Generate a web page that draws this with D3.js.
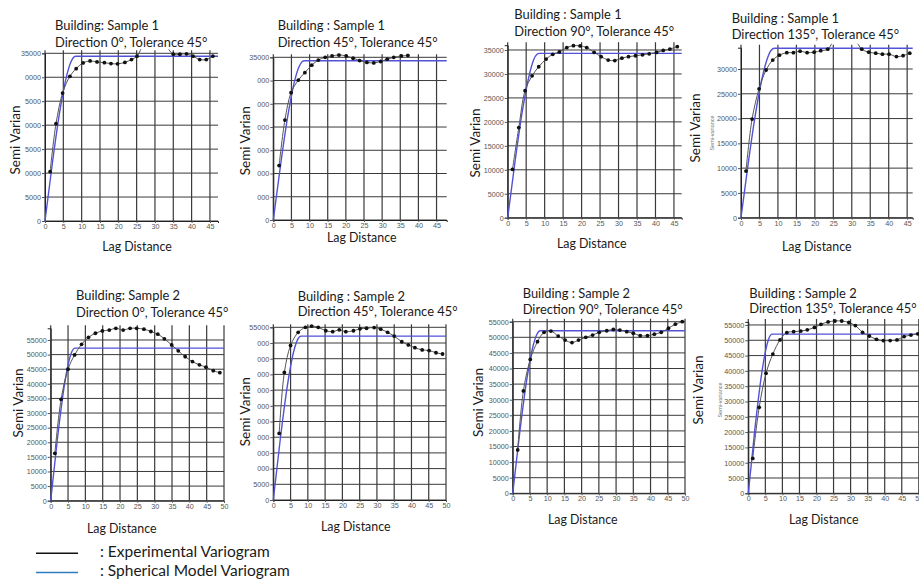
<!DOCTYPE html>
<html><head><meta charset="utf-8">
<script src="https://cdn.jsdelivr.net/npm/d3@7"></script>
<style>
html,body{margin:0;padding:0;background:#fff;}
svg{display:block;}
</style></head>
<body>
<script>
// ---------- DATA ----------
const sample1XTicks = [0,5,10,15,20,25,30,35,40,45];
const sample2XTicks = [0,5,10,15,20,25,30,35,40,45,50];
const sample1YTicks = [0,5000,10000,15000,20000,25000,30000,35000];
const p4YTicks = [0,5000,10000,15000,20000,25000,30000];
const sample2YTicks = [0,5000,10000,15000,20000,25000,30000,35000,40000,45000,50000,55000];

const p1YLabels = ["0","5000","0000","5000","0000","5000","0000","35000"];
const p2YLabels = ["0","000","000","000","000","000","000","35000"];
const p3YLabels = ["0","5000","10000","15000","20000","25000","30000","35000"];
const p4YLabels = ["0","5000","10000","15000","20000","25000","30000"];
const fullS2YLabels = ["0","5000","10000","15000","20000","25000","30000","35000","40000","45000","50000","55000"];
const p6YLabels = ["0","5000","000","000","000","000","000","000","000","000","000","55000"];

const titles1 = ["Building: Sample 1","Building : Sample 1","Building : Sample 1","Building : Sample 1",
                 "Building: Sample 2","Building : Sample 2","Building : Sample 2","Building : Sample 2"];
const titles2 = ["Direction 0°, Tolerance 45°","Direction 45°, Tolerance 45°","Direction 90°, Tolerance 45°","Direction 135°, Tolerance 45°",
                 "Direction 0°, Tolerance 45°","Direction 45°, Tolerance 45°","Direction 90°, Tolerance 45°","Direction 135°, Tolerance 45°"];

// Experimental variogram (lag, semivariance)
const lagP1 = [1.4,3.0,4.8,6.8,8.5,10.4,12.3,14.2,16.2,18.0,19.8,21.8,23.6,25.1,27.0,28.9,30.7,32.6,35.0,36.8,38.6,40.4,42.2,44.0,45.8];
const gamP1 = [10300,20300,26700,30200,31800,33000,33400,33200,33050,32850,32800,33100,33700,34400,36800,37200,37200,36800,34800,34800,34900,34400,33700,33700,34400];
const lagP2 = [1.6,3.2,4.9,6.9,8.7,10.6,12.4,14.3,16.2,18.1,20.1,22.0,23.8,25.8,27.7,29.6,31.4,33.2,35.3,37.1];
const gamP2 = [11700,21500,27400,30100,31700,33300,34400,35000,35300,35500,35300,34800,34300,33900,33800,34100,34600,35000,35300,35400];
const lagP3 = [1.3,3.0,4.7,6.6,8.4,10.4,12.2,14.0,16.0,17.8,19.6,21.4,23.4,25.3,27.2,29.0,30.9,32.7,34.6,36.5,38.3,40.3,42.1,43.9,45.9];
const gamP3 = [10100,18800,26500,29600,31500,33100,34100,34600,35500,35900,35850,35500,34500,33600,32900,32800,33300,33600,33800,34000,34200,34500,34900,35200,35700];
const lagP4 = [1.35,3.0,4.9,6.8,8.6,10.4,12.4,14.2,16.0,17.9,19.8,21.6,23.5,25.3,27.2,29.0,30.9,32.7,34.6,36.5,38.3,40.1,42.1,43.9,45.7];
const gamP4 = [9400,19900,26000,29800,31800,32800,33300,33300,33600,33300,33400,33700,34000,35800,36200,36200,35800,34000,33400,33200,33000,33000,32500,32700,33200];
const lagP5 = [1.2,3.0,5.0,6.9,8.9,10.9,12.9,14.9,16.9,18.8,20.9,22.9,24.8,26.9,28.9,30.9,32.8,34.9,36.8,38.8,40.9,42.9,44.8,46.9,48.8];
const gamP5 = [16200,34700,45000,49900,53500,55900,57300,58100,58400,59000,58400,59000,59000,58700,57900,57000,55400,53300,51300,49300,47600,46500,45700,44500,43800];
const lagP6 = [1.7,3.2,5.0,7.2,9.3,11.1,13.0,15.2,17.2,19.1,21.0,23.2,25.1,27.0,29.2,31.1,33.1,35.0,37.2,39.1,41.0,43.1,45.1,47.1,49.0];
const gamP6 = [21200,40600,49200,53400,55000,55400,55000,53900,53600,54200,53600,53900,54500,54700,54900,54400,53400,52200,50400,49400,48500,47800,47600,46900,46500];
const lagP7 = [1.45,3.1,5.1,7.2,9.1,11.1,13.2,15.2,17.2,19.1,21.2,23.2,25.1,27.3,29.2,31.1,33.1,35.0,37.0,39.1,41.1,43.1,45.2,47.2,49.2];
const gamP7 = [13900,32800,42900,48600,51600,52000,50400,49100,48300,49100,50000,50700,51600,52100,52500,52300,51800,51300,50500,50500,51000,51600,52900,54200,55000];
const lagP8 = [1.3,3.2,5.2,7.2,9.3,11.3,13.3,15.4,17.3,19.4,21.3,23.4,25.4,27.4,29.5,31.4,33.5,35.5,37.6,39.6,41.6,43.6,45.7,47.7,49.7];
const gamP8 = [11400,28100,39200,45500,50100,52500,52800,53000,53400,54200,55200,56000,56300,56300,55800,54800,52600,51400,50300,49900,49900,50100,51200,51700,52100];

// Spherical model variogram (read points)
const mLagP1 = [0,2,4,6,7,8,8.4,47.2];  const mGamP1 = [0,12000,22700,30600,33100,34300,34400,34400];
const mLagP2 = [0,2,4,6,7,8,8.5,47.8];  const mGamP2 = [0,11800,22400,30300,32800,34100,34250,34250];
const mLagP3 = [0,2,4,6,7,8,8.5,47.1];  const mGamP3 = [0,11800,22400,30300,32900,34150,34300,34300];
const mLagP4 = [0,2,4,6,7,8,9,46.5];    const mGamP4 = [0,11200,21300,29100,31800,33600,34200,34200];
const mLagP5 = [0,2,4,5,6,7,50];        const mGamP5 = [0,21800,39900,46400,50700,52200,52200];
const mLagP6 = [0,2,4,6,7,8,50];        const mGamP6 = [0,19200,35900,47700,51000,52200,52200];
const mLagP7 = [0,2,4,6,7,8,50];        const mGamP7 = [0,19100,35800,47600,50900,52100,52100];
const mLagP8 = [0,2,4,5,6,7,50];        const mGamP8 = [0,21700,39700,46200,50500,52000,52000];

const legendLabels = [": Experimental Variogram", ": Spherical Model Variogram"];

// ---------- LAYOUT ----------
const panels = [
 {lag:lagP1,gam:gamP1,mLag:mLagP1,mGam:mGamP1,xTicks:sample1XTicks,yTicks:sample1YTicks,yLabels:p1YLabels,xMax:47.2,yMax:35000,
  x0:45,x1:218,y0:221,yTop:53.3,tx:55,t1:25,t2:42.7,yl:[15,140],xl:[137,247]},
 {lag:lagP2,gam:gamP2,mLag:mLagP2,mGam:mGamP2,xTicks:sample1XTicks,yTicks:sample1YTicks,yLabels:p2YLabels,xMax:47.8,yMax:35000,
  x0:273.3,x1:446.7,y0:220,yTop:57.3,tx:277.7,t1:25,t2:42.7,yl:[245,140.7],xl:[361.7,237.5]},
 {lag:lagP3,gam:gamP3,mLag:mLagP3,mGam:mGamP3,xTicks:sample1XTicks,yTicks:sample1YTicks,yLabels:p3YLabels,xMax:47.1,yMax:36000,
  x0:507.7,x1:681.7,y0:217.7,yTop:45.2,tx:514.3,t1:14,t2:31.7,yl:[475,143],xl:[591.7,244]},
 {lag:lagP4,gam:gamP4,mLag:mLagP4,mGam:mGamP4,xTicks:sample1XTicks,yTicks:p4YTicks,yLabels:p4YLabels,xMax:46.5,yMax:34300,
  x0:741,x1:912.7,y0:217.7,yTop:47.7,tx:731.7,t1:18.3,t2:34.3,yl:[695.7,128],xl:[816.7,246.7],small:[711.7,133]},
 {lag:lagP5,gam:gamP5,mLag:mLagP5,mGam:mGamP5,xTicks:sample2XTicks,yTicks:sample2YTicks,yLabels:fullS2YLabels,xMax:50,yMax:59000,
  x0:50.7,x1:224,y0:500.7,yTop:328.3,tx:76,t1:295,t2:312.7,yl:[18.3,403],xl:[121.7,528.3]},
 {lag:lagP6,gam:gamP6,mLag:mLagP6,mGam:mGamP6,xTicks:sample2XTicks,yTicks:sample2YTicks,yLabels:p6YLabels,xMax:50,yMax:55000,
  x0:273.3,x1:446,y0:500,yTop:327.3,tx:297.7,t1:296,t2:311.7,yl:[245,411.7],xl:[355.7,526.7]},
 {lag:lagP7,gam:gamP7,mLag:mLagP7,mGam:mGamP7,xTicks:sample2XTicks,yTicks:sample2YTicks,yLabels:fullS2YLabels,xMax:50,yMax:55000,
  x0:512.7,x1:685,y0:493.3,yTop:321.7,tx:522.7,t1:293.3,t2:309.3,yl:[478.3,402.5],xl:[582.7,520]},
 {lag:lagP8,gam:gamP8,mLag:mLagP8,mGam:mGamP8,xTicks:sample2XTicks,yTicks:sample2YTicks,yLabels:fullS2YLabels,xMax:50,yMax:56000,
  x0:748.3,x1:918.8,y0:493.3,yTop:321.9,tx:749.3,t1:293,t2:308.5,yl:[698.3,390],xl:[823.7,519.3],small:[720,400]}
];

const FONT = "Lato, 'Open Sans', sans-serif";
const TICKFONT = "'Liberation Sans', Arial, sans-serif";
const BLUE = "#5252d6";
const GRID = "#3a3a3a";

const svg = d3.select("body").append("svg").attr("width",919).attr("height",579)
  .attr("viewBox","0 0 919 579");
svg.append("rect").attr("width",919).attr("height",579).attr("fill","#fff");
const defs = svg.append("defs");

panels.forEach((p,i)=>{
  const g = svg.append("g").attr("class","panel");
  const x = d3.scaleLinear().domain([0,p.xMax]).range([p.x0,p.x1]);
  const y = d3.scaleLinear().domain([0,p.yMax]).range([p.y0,p.yTop]);

  // titles
  g.append("text").attr("x",p.tx).attr("y",p.t1).attr("dy","0.35em")
    .attr("font-family",FONT).attr("font-size",12.9).attr("fill","#1a1a1a").text(titles1[i]);
  g.append("text").attr("x",p.tx).attr("y",p.t2).attr("dy","0.35em")
    .attr("font-family",FONT).attr("font-size",12.9).attr("fill","#1a1a1a").text(titles2[i]);

  // grid
  g.append("g").selectAll("line").data(p.yTicks).join("line")
    .attr("x1",x(0)).attr("x2",x(p.xMax)).attr("y1",d=>y(d)).attr("y2",d=>y(d))
    .attr("stroke",GRID).attr("stroke-width",1);
  g.append("g").selectAll("line").data(p.xTicks).join("line")
    .attr("x1",d=>x(d)).attr("x2",d=>x(d)).attr("y1",y(0)).attr("y2",y(p.yMax)-3)
    .attr("stroke",GRID).attr("stroke-width",1.2);

  // axes
  const ya = d3.axisLeft(y).tickValues(p.yTicks).tickFormat((d,k)=>p.yLabels[k]).tickSize(3).tickPadding(1);
  const yg = g.append("g").attr("transform",`translate(${x(0)},0)`).call(ya);
  const xa = d3.axisBottom(x).tickValues(p.xTicks).tickSize(2).tickPadding(1);
  const xg = g.append("g").attr("transform",`translate(0,${y(0)})`).call(xa);
  [yg,xg].forEach(a=>{
    a.select(".domain").attr("stroke","#222");
    a.selectAll(".tick line").attr("stroke","#555");
    a.selectAll("text").attr("font-family",TICKFONT).attr("font-size",7.2).attr("fill","#555");
  });

  // axis titles
  g.append("text").attr("transform",`translate(${p.yl[0]},${p.yl[1]}) rotate(-90)`)
    .attr("text-anchor","middle").attr("dy","0.35em")
    .attr("font-family",FONT).attr("font-size",13.5).attr("fill","#1a1a1a").text("Semi Varian");
  g.append("text").attr("x",p.xl[0]).attr("y",p.xl[1]).attr("text-anchor","middle").attr("dy","0.35em")
    .attr("font-family",FONT).attr("font-size",12.4).attr("fill","#1a1a1a").text("Lag Distance");
  if(p.small){
    g.append("text").attr("transform",`translate(${p.small[0]},${p.small[1]}) rotate(-90)`)
      .attr("text-anchor","middle").attr("dy","0.35em")
      .attr("font-family",TICKFONT).attr("font-size",5.5).attr("fill","#777").text("Semi-variance");
  }

  // clip
  const cid = "clip"+i;
  defs.append("clipPath").attr("id",cid).append("rect")
    .attr("x",x(0)-3).attr("y",y(p.yMax)-4).attr("width",x(p.xMax)-x(0)+6).attr("height",y(0)-y(p.yMax)+7);
  const c = g.append("g").attr("clip-path",`url(#${cid})`);

  const model = p.mLag.map((v,k)=>[v,p.mGam[k]]);
  c.append("path").datum(model)
    .attr("d",d3.line().x(d=>x(d[0])).y(d=>y(d[1])).curve(d3.curveMonotoneX))
    .attr("fill","none").attr("stroke",BLUE).attr("stroke-width",1.4);

  const exp = p.lag.map((v,k)=>[v,p.gam[k]]);
  c.append("path").datum(exp)
    .attr("d",d3.line().x(d=>x(d[0])).y(d=>y(d[1])).curve(d3.curveCatmullRom))
    .attr("fill","none").attr("stroke","#555").attr("stroke-width",1);
  c.append("g").selectAll("circle").data(exp).join("circle")
    .attr("cx",d=>x(d[0])).attr("cy",d=>y(d[1])).attr("r",1.9).attr("fill","#111");
});

// legend
const lg = svg.append("g");
const legendColors = ["#111","#2f7bc0"];
const legendY = [553.3,572.5];
legendLabels.forEach((t,k)=>{
  lg.append("line").attr("x1",36).attr("x2",78).attr("y1",legendY[k]).attr("y2",legendY[k])
    .attr("stroke",legendColors[k]).attr("stroke-width",1.6);
  lg.append("text").attr("x",100).attr("y",legendY[k]-1.5).attr("dy","0.35em")
    .attr("font-family",FONT).attr("font-size",15.5).attr("fill","#1a1a1a").text(t);
});
</script>
</body></html>
